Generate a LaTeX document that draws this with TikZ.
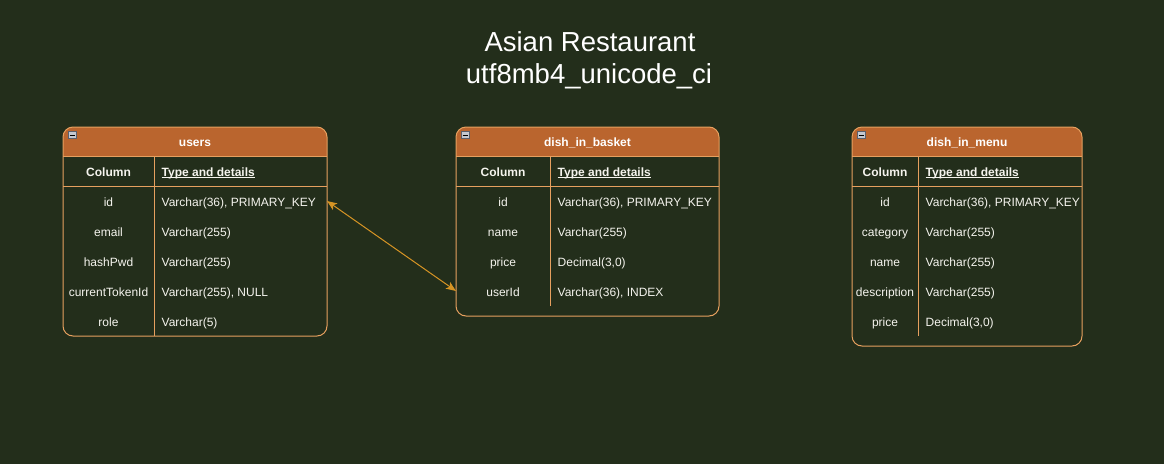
\documentclass[tikz,border=0pt]{standalone}
\usepackage{fontspec}
\setmainfont{Liberation Sans}
\usetikzlibrary{arrows.meta}
\definecolor{bgc}{RGB}{35,46,27}
\definecolor{hdrc}{RGB}{186,101,46}
\definecolor{linec}{RGB}{230,160,95}
\definecolor{arrc}{RGB}{214,148,36}
\definecolor{txtc}{RGB}{245,244,238}
\definecolor{iconc}{RGB}{196,200,208}
\definecolor{iconb}{RGB}{90,96,110}

\newcommand\dbtable[8]{%
  \begin{scope}
    \clip[rounded corners=10pt] (#2,127) rectangle (#3,#5);
    \fill[hdrc] (#2,127) rectangle (#3,156);
  \end{scope}
  \draw[tline] (#2,156) -- (#3,156) (#2,186) -- (#3,186) (#4,156) -- (#4,#6);
  \pgfmathsetmacro\tw{#3-#2}\pgfmathsetmacro\th{#5-127}
  \node[tblbox, anchor=north west, minimum width=\tw pt, minimum height=\th pt] (#1) at (#2,127) {};
  \draw[iconstyle] (#2+5,131.5) rectangle (#2+13,138.5);
  \draw[black, line width=1pt] (#2+6.5,135) -- (#2+11.5,135);
  \pgfmathsetmacro\xa{(#2+#4)/2}\pgfmathsetmacro\xm{(#2+#3)/2}\pgfmathsetmacro\xb{#4+7.5}
  \node[ttl] (#1-title) at (\xm,146) {#7};
  \node[hd] (#1-colh) at (\xa,176) {Column};
  \node[hd, anchor=base west] (#1-typh) at (\xb,176) {\underline{\smash{Type and details}}};
  \foreach \n/\t [count=\i] in {#8} {
    \pgfmathsetmacro\yy{171+30*\i}
    \coordinate (#1-r\i) at (\xm,\yy);
    \node[cell] (#1-c\i) at (\xa,\yy+5) {\n};
    \node[cell, anchor=base west] (#1-t\i) at (\xb,\yy+5) {\t};
  }
}

\begin{document}
\begin{tikzpicture}[x=1pt,y=-1pt,
  tline/.style={draw=linec, line width=1pt},
  tblbox/.style={draw=linec, line width=1pt, rounded corners=10pt, inner sep=0pt, outer sep=0pt},
  iconstyle/.style={fill=iconc, draw=iconb, line width=0.6pt},
  ttl/.style={font=\fontsize{12}{14}\selectfont\bfseries, text=white, inner sep=0pt, anchor=base},
  hd/.style={font=\fontsize{12}{14}\selectfont\bfseries, text=txtc, inner sep=0pt, anchor=base},
  cell/.style={font=\fontsize{12}{14}\selectfont, text=txtc, inner sep=0pt, anchor=base},
  titlestyle/.style={font=\fontsize{27.5}{32}\selectfont, text=white, inner sep=0pt, anchor=base},
  rel/.style={draw=arrc, line width=1pt, {Stealth[length=10pt,width=8pt,inset=2.5pt]}-{Stealth[length=10pt,width=8pt,inset=2.5pt]}}
]
\fill[bgc] (0,0) rectangle (1164,464);
\useasboundingbox (0,0) rectangle (1164,464);

\node[titlestyle] (title1) at (590,51) {Asian Restaurant};
\node[titlestyle] (title2) at (589,83) {utf8mb4\_unicode\_ci};

\dbtable{users}{63}{327}{154}{336}{336}{users}{id/{Varchar(36), PRIMARY\_KEY},email/{Varchar(255)},hashPwd/{Varchar(255)},currentTokenId/{Varchar(255), NULL},role/{Varchar(5)}}

\dbtable{basket}{456}{719}{550}{316}{306}{dish\_in\_basket}{id/{Varchar(36), PRIMARY\_KEY},name/{Varchar(255)},price/{Decimal(3,0)},userId/{Varchar(36), INDEX}}

\dbtable{menu}{852}{1082}{918}{346}{336}{dish\_in\_menu}{id/{Varchar(36), PRIMARY\_KEY},category/{Varchar(255)},name/{Varchar(255)},description/{Varchar(255)},price/{Decimal(3,0)}}

\draw[rel] (users.east |- users-r1) -- (basket.west |- basket-r4);
\end{tikzpicture}
\end{document}
